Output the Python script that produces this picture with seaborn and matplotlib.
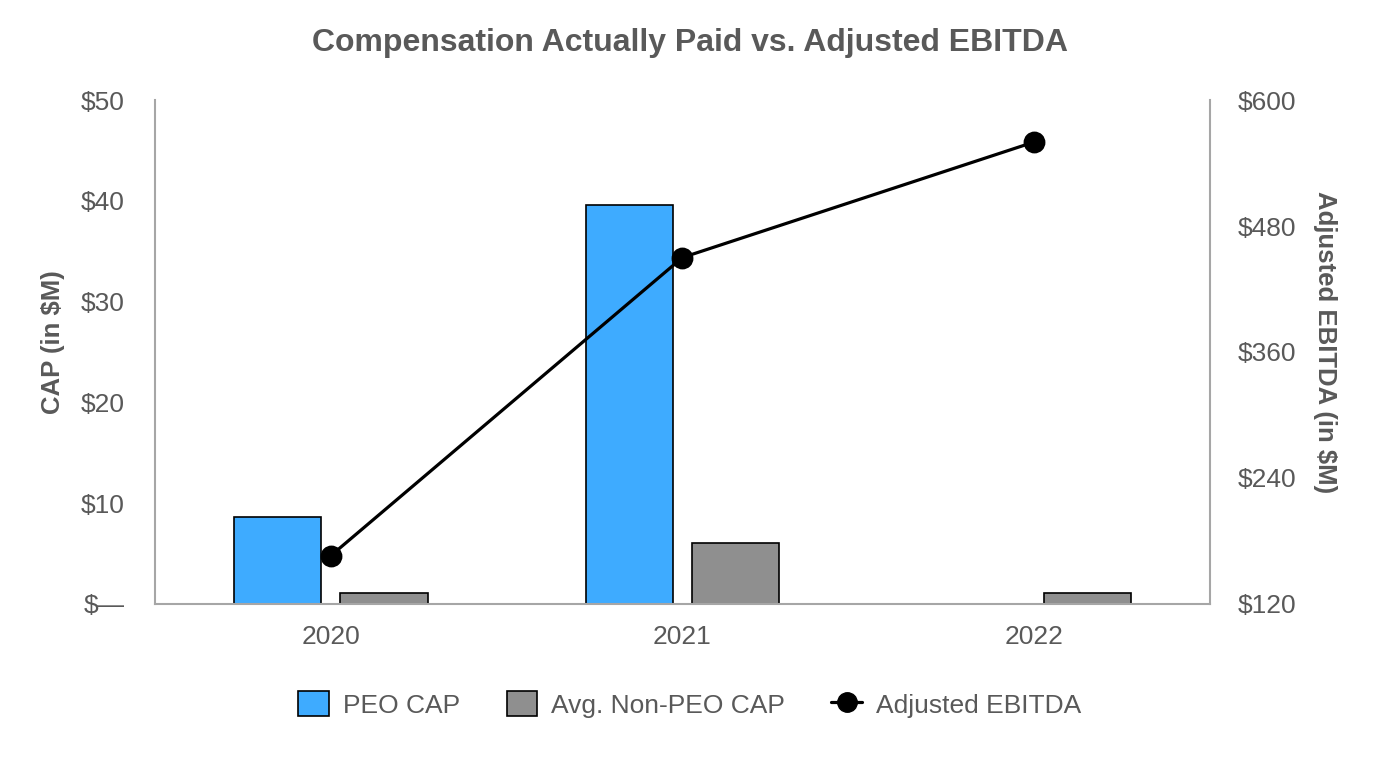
import numpy as np
import pandas as pd
import matplotlib
matplotlib.use("Agg")
import matplotlib.pyplot as plt
import seaborn as sns
from matplotlib.patches import Patch
from matplotlib.lines import Line2D

years = ["2020", "2021", "2022"]
peo_cap = [8.6, 39.6, np.nan]
non_peo_cap = [1.1, 6.0, 1.1]
adj_ebitda = [166, 450, 560]
left_ticks = [0, 10, 20, 30, 40, 50]
left_labels = ["$\u2014", "$10", "$20", "$30", "$40", "$50"]
right_ticks = [120, 240, 360, 480, 600]
right_labels = ["$120", "$240", "$360", "$480", "$600"]
series_names = ["PEO CAP", "Avg. Non-PEO CAP"]

sns.set_theme(style="white")
plt.rcParams["font.family"] = ["Liberation Sans", "DejaVu Sans"]

TXT = "#595959"
BLUE = "#3EABFF"
GRAY = "#8F8F8F"
SPINE = "#A6A6A6"

df = pd.DataFrame({
    "year": years * 2,
    "value": peo_cap + non_peo_cap,
    "series": [series_names[0]] * 3 + [series_names[1]] * 3,
})

fig = plt.figure(figsize=(13.8, 7.6), dpi=100)
ax = fig.add_axes([0.1123, 0.2053, 0.7645, 0.6631])

sns.barplot(data=df, x="year", y="value", hue="series", order=years,
            hue_order=series_names, palette=[BLUE, GRAY], width=0.604, gap=0.179,
            saturation=1, edgecolor="black", linewidth=1.2, legend=False, ax=ax,
            errorbar=None)

ax.set_xlim(-0.5, 2.5)
ax.set_ylim(0, 50)
ax.set_yticks(left_ticks)
ax.set_yticklabels(left_labels)
ax.tick_params(axis="y", length=0, pad=22, labelsize=19, labelcolor=TXT)
ax.tick_params(axis="x", length=0, pad=15, labelsize=19, labelcolor=TXT)
ax.set_xlabel("")
ax.set_ylabel("CAP (in $M)", fontsize=18.5, fontweight="bold", color=TXT, va="center")
ax.yaxis.set_label_coords(-0.097, 0.52)

ax2 = ax.twinx()
sns.pointplot(x=years, y=adj_ebitda, order=years, color="black", ax=ax2,
              markers="o", markersize=14, linewidth=2.3)
ax2.set_xlim(-0.5, 2.5)
ax2.set_ylim(120, 600)
ax2.set_yticks(right_ticks)
ax2.set_yticklabels(right_labels)
ax2.tick_params(axis="y", length=0, pad=20, labelsize=19, labelcolor=TXT)
ax2.set_ylabel("Adjusted EBITDA (in $M)", fontsize=18.5, fontweight="bold", color=TXT,
               rotation=270, va="center")
ax2.yaxis.set_label_coords(1.109, 0.52)

for a in (ax, ax2):
    a.grid(False)
    a.spines["top"].set_visible(False)
    for s in ("left", "right", "bottom"):
        a.spines[s].set_color(SPINE)
        a.spines[s].set_linewidth(1.5)
ax.spines["right"].set_visible(False)
ax2.spines["left"].set_visible(False)
ax2.spines["bottom"].set_visible(False)

fig.suptitle("Compensation Actually Paid vs. Adjusted EBITDA", fontsize=23,
             fontweight="bold", color=TXT, y=0.943, va="center")

handles = [
    Patch(facecolor=BLUE, edgecolor="black", linewidth=1.2),
    Patch(facecolor=GRAY, edgecolor="black", linewidth=1.2),
    Line2D([0], [0], color="black", linewidth=2.3, marker="o", markersize=14),
]
fig.legend(handles, series_names + ["Adjusted EBITDA"], loc="center",
           bbox_to_anchor=(0.5, 0.073), ncol=3, frameon=False, fontsize=19,
           labelcolor=TXT, handlelength=1.15, handleheight=1.05, columnspacing=1.75,
           handletextpad=0.55)

fig.savefig("out.png", dpi=100)
